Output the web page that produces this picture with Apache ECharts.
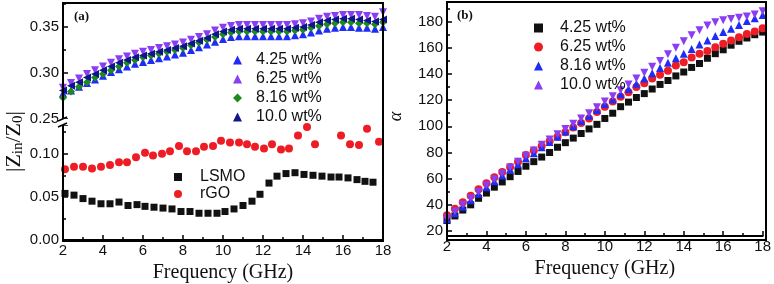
<!DOCTYPE html>
<html>
<head>
<meta charset="utf-8">
<script src="https://cdn.jsdelivr.net/npm/echarts@6/dist/echarts.min.js"></script>
<style>
html,body{margin:0;padding:0;background:#fff}
#chart{width:774px;height:284px}
</style>
</head>
<body>
<div id="chart"></div>
<script>
// ---- panel (a), upper part: |Zin/Z0| of the composites
var freqA = [2.0,2.4,2.8,3.2,3.6,4.0,4.4,4.8,5.2,5.6,6.0,6.4,6.8,7.2,7.6,8.0,8.4,8.8,9.2,9.6,10.0,
  10.4,10.8,11.2,11.6,12.0,12.4,12.8,13.2,13.6,14.0,14.4,14.8,15.2,15.6,16.0,16.4,16.8,17.2,17.6,18.0];
var zA425 = [.278,.281,.285,.289,.293,.297,.301,.304,.307,.310,.312,.314,.316,.318,.320,.322,.325,.328,.331,.334,.337,
  .339,.340,.340,.340,.340,.340,.340,.340,.341,.342,.344,.346,.348,.349,.350,.350,.349,.349,.348,.350];
var zA625 = [.284,.289,.294,.299,.303,.307,.311,.315,.318,.321,.323,.325,.327,.329,.331,.333,.336,.339,.342,.346,.349,
  .351,.352,.352,.352,.352,.352,.352,.352,.353,.354,.356,.359,.361,.362,.363,.363,.363,.362,.361,.366];
var zA816 = [.273,.280,.285,.290,.295,.299,.303,.307,.311,.314,.317,.319,.321,.323,.325,.327,.330,.333,.336,.339,.342,
  .344,.345,.345,.345,.345,.345,.345,.345,.346,.347,.349,.351,.353,.354,.355,.355,.354,.354,.353,.355];
var zA100 = [.281,.286,.290,.295,.299,.303,.307,.311,.314,.317,.319,.321,.323,.325,.327,.329,.332,.335,.338,.342,.345,
  .347,.348,.348,.348,.348,.348,.348,.348,.349,.350,.352,.355,.357,.358,.359,.359,.358,.357,.356,.358];

// ---- panel (a), lower part: LSMO and rGO
var lsmoFreq = [2.1,2.55,3.0,3.45,3.9,4.35,4.8,5.25,5.7,6.1,6.55,7.0,7.45,7.9,8.35,8.8,9.25,9.7,10.1,10.55,11.0,
  11.45,11.85,12.3,12.7,13.15,13.6,14.05,14.5,14.95,15.4,15.8,16.25,16.7,17.1,17.5];
var lsmoVal = [.054,.052,.048,.045,.042,.042,.044,.040,.041,.039,.038,.037,.036,.033,.033,.031,.031,.031,.033,.036,.040,
  .045,.053,.066,.074,.077,.078,.076,.075,.074,.073,.073,.072,.070,.068,.067];
var rgoFreq = [2.1,2.55,3.0,3.45,3.9,4.35,4.8,5.2,5.65,6.1,6.5,6.95,7.35,7.8,8.2,8.65,9.05,9.5,9.9,10.35,10.8,
  11.2,11.6,12.05,12.45,12.9,13.3,13.75,14.2,14.6,15.9,16.35,16.8,17.2,17.8];
var rgoVal = [.082,.085,.085,.083,.085,.087,.090,.090,.096,.101,.098,.100,.103,.109,.103,.103,.108,.109,.115,.113,.113,
  .111,.108,.106,.111,.105,.106,.121,.131,.111,.121,.111,.110,.129,.114];

// ---- panel (b): alpha
var freqB = freqA;
var aB425 = [28,31.5,36,40,45,49,53.5,57.5,61.5,65.5,69.5,73,76.5,80,84,87.5,91,94.5,98,101.5,106,
  110,115,118.5,122,125,128.5,132,135,138.5,141.5,145,148,152,155.5,158.5,162,165,167.5,170,172];
var aB625 = [32,37,42,47,52,56.5,61,65,69,73,78,81.5,85,88.5,92,95.5,99,102.5,106,111,115,
  119,122.5,126,130,133,136.5,139.5,142.5,146.5,149,152.5,155.5,157.5,160.5,163,165.5,168,170.5,172.5,175];
var aB816 = [29,33.5,38.5,43.5,48.5,53.5,58,62.5,67,71,75.5,79.5,84,88,92,96,100,104,108,112.5,117,
  120.5,124.5,128.5,132.5,136.5,140.5,144.5,148.5,152,155.5,159,162.5,165.5,169,172,174.5,177.5,180.5,182.5,185];
var aB100 = [30,35,40,45,50,55,59.5,64,68.5,73,77.5,81.5,86,90,94,98,102,106,110,114.5,119,
  123,127.5,132,136.5,141,145.5,150,155,160,165,169.5,173.5,177,179.5,181,182,183,184,185.5,188];

var ticksX = [2, 18, 2];          // min, max, interval of frequency axes
var labelsA = ['4.25 wt%', '6.25 wt%', '8.16 wt%', '10.0 wt%'];
var labelsA2 = ['LSMO', 'rGO'];
var labelsB = ['4.25 wt%', '6.25 wt%', '8.16 wt%', '10.0 wt%'];

function pairs(xs, ys) {
  return xs.map(function (x, i) { return [x, ys[i]]; });
}

var SANS = 'Liberation Sans, Arial, sans-serif';
var SERIF = 'Liberation Serif, Times New Roman, serif';

var dom = document.getElementById('chart');
var myChart = echarts.init(dom);

function freqAxis(grid, visible, offset) {
  return {
    gridIndex: grid, type: 'value', min: ticksX[0], max: ticksX[1], interval: ticksX[2],
    show: visible, offset: offset || 0,
    name: 'Frequency (GHz)', nameLocation: 'middle', nameGap: 23,
    nameTextStyle: {fontFamily: SERIF, fontSize: 20, color: '#111'},
    axisLine: {lineStyle: {color: '#000', width: 2}},
    axisTick: {inside: true, length: 5, lineStyle: {color: '#000', width: 1.5}},
    minorTick: {show: true, splitNumber: 2, length: 3, lineStyle: {color: '#000', width: 1.5}},
    axisLabel: {fontFamily: SANS, fontSize: 15, color: '#111', margin: 3},
    splitLine: {show: false}
  };
}

function onStep(step, digits) {
  return function (v) {
    var k = v / step;
    return Math.abs(k - Math.round(k)) < 1e-6 ? v.toFixed(digits) : '';
  };
}

function valAxis(grid, min, max, step, digits, extra) {
  var ax = {
    gridIndex: grid, type: 'value', min: min, max: max, interval: step,
    axisLine: {show: false},
    axisTick: {inside: true, length: 5, lineStyle: {color: '#000', width: 1.5}},
    minorTick: {show: true, splitNumber: 2, length: 3, lineStyle: {color: '#000', width: 1.5}},
    axisLabel: {fontFamily: SANS, fontSize: 15, color: '#111', margin: 4, formatter: onStep(step, digits)},
    splitLine: {show: false}
  };
  for (var k in extra) ax[k] = extra[k];
  return ax;
}

function scatter(name, xi, yi, data, color, symbol, rot, size) {
  return {
    name: name, type: 'scatter', xAxisIndex: xi, yAxisIndex: yi, data: data,
    symbol: symbol, symbolRotate: rot || 0, symbolSize: size || 8,
    itemStyle: {color: color, opacity: 1}, emphasis: {disabled: true}, z: 3
  };
}

function legendText(padLeft) {
  return {fontFamily: SANS, fontSize: 16, color: '#111', padding: [0, 0, 0, padLeft]};
}

option = {
  animation: false,
  backgroundColor: '#fff',
  grid: [
    {left: 63, width: 320, top: 3, height: 116},
    {left: 63, width: 320, top: 125, height: 116},
    {left: 447, width: 319, top: 2, height: 233}
  ],
  xAxis: [freqAxis(0, false), freqAxis(1, true), freqAxis(2, true, 5)],
  yAxis: [
    valAxis(0, 0.25, 0.376, 0.05, 2, {}),
    valAxis(1, 0, 0.1333, 0.05, 2, {}),
    valAxis(2, 20, 195, 20, 0, {
      name: 'α', nameLocation: 'middle', nameGap: 42, nameRotate: 90,
      nameTextStyle: {fontFamily: SERIF, fontSize: 18, fontStyle: 'italic', color: '#111'}
    })
  ],
  legend: [
    {
      data: labelsA, left: 228, top: 47, orient: 'vertical', itemGap: 3,
      itemWidth: 9, itemHeight: 9, textStyle: legendText(9), selectedMode: false
    },
    {
      data: labelsA2, left: 169, top: 164, orient: 'vertical', itemGap: 1,
      itemWidth: 8, itemHeight: 8, textStyle: legendText(13), selectedMode: false
    },
    {
      data: labelsB.map(function (n) { return 'b:' + n; }), left: 529, top: 15, orient: 'vertical', itemGap: 3,
      itemWidth: 9, itemHeight: 9, textStyle: legendText(12), selectedMode: false,
      formatter: function (n) { return n.slice(2); }
    }
  ],
  graphic: [
    {type: 'rect', shape: {x: 63, y: 3, width: 320, height: 238}, style: {fill: 'none', stroke: '#000', lineWidth: 2}, z: 10},
    {type: 'rect', shape: {x: 447, y: 2, width: 319, height: 238}, style: {fill: 'none', stroke: '#000', lineWidth: 2}, z: 10},
    // axis break on the left of panel (a)
    {type: 'rect', shape: {x: 58, y: 119, width: 10, height: 6}, style: {fill: '#fff'}, z: 11},
    {type: 'line', shape: {x1: 58, y1: 121, x2: 67, y2: 117}, style: {stroke: '#000', lineWidth: 1.5}, z: 12},
    {type: 'line', shape: {x1: 58, y1: 127, x2: 67, y2: 123}, style: {stroke: '#000', lineWidth: 1.5}, z: 12},
    {type: 'text', x: 74, y: 10, style: {text: '(a)', fontFamily: SERIF, fontSize: 13, fontWeight: 'bold', fill: '#111'}, z: 12},
    {type: 'text', x: 457, y: 9, style: {text: '(b)', fontFamily: SERIF, fontSize: 13, fontWeight: 'bold', fill: '#111'}, z: 12},
    {
      type: 'text', x: 2, y: 172, rotation: Math.PI / 2, z: 12,
      style: {
        text: '|Z{s|in}/Z{s|0}|', fontFamily: SERIF, fontSize: 22, fill: '#111',
        rich: {s: {fontFamily: SERIF, fontSize: 15, fill: '#111', padding: [9, 0, 0, 0]}}
      }
    }
  ],
  series: [
    scatter(labelsA[0], 0, 0, pairs(freqA, zA425), '#1f2cf5', 'triangle', 0, 8),
    scatter(labelsA[1], 0, 0, pairs(freqA, zA625), '#8a3df2', 'triangle', 180, 8),
    scatter(labelsA[2], 0, 0, pairs(freqA, zA816), '#1e8a1e', 'diamond', 0, 8),
    scatter(labelsA[3], 0, 0, pairs(freqA, zA100), '#10158a', 'triangle', 90, 8),
    scatter(labelsA2[0], 1, 1, pairs(lsmoFreq, lsmoVal), '#111', 'rect', 0, 7),
    scatter(labelsA2[1], 1, 1, pairs(rgoFreq, rgoVal), '#ee1c24', 'circle', 0, 8),
    scatter('b:' + labelsB[0], 2, 2, pairs(freqB, aB425), '#111', 'rect', 0, 7),
    scatter('b:' + labelsB[1], 2, 2, pairs(freqB, aB625), '#ee1c24', 'circle', 0, 8),
    scatter('b:' + labelsB[2], 2, 2, pairs(freqB, aB816), '#1f2cf5', 'triangle', 0, 8),
    scatter('b:' + labelsB[3], 2, 2, pairs(freqB, aB100), '#8a3df2', 'triangle', 180, 8)
  ]
};

myChart.setOption(option);
</script>
</body>
</html>
